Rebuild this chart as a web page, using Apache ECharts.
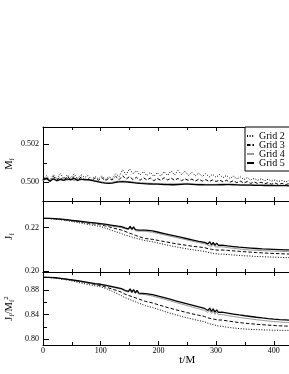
<!DOCTYPE html>
<html><head><meta charset="utf-8">
<script src="https://cdn.jsdelivr.net/npm/echarts@6/dist/echarts.min.js"></script>
<style>html,body{margin:0;padding:0;background:#fff}#c{width:289px;height:374px}</style>
</head><body><div id="c"></div>
<script>
// ---- data ----
const seriesNames = ['Grid 2', 'Grid 3', 'Grid 4', 'Grid 5'];
const xTicks = [0, 100, 200, 300, 400];

const tM = [0,6,12,18,24,30,36,42,48,54,60,66,72,78,84,90,96,102,108,114,120,126,132,138,144,150,156,162,168,174,180,186,192,198,204,210,216,222,228,234,240,246,252,258,264,270,276,282,288,294,300,306,312,318,324,330,336,342,348,354,360,366,372,378,384,390,396,402,408,414,420,426,432];
const mGrid2 = [.50014,.50035,.50010,.50040,.50018,.50045,.50020,.50038,.50022,.50045,.50018,.50040,
 .50025,.50035,.50015,.50030,.50018,.50032,.50015,.50028,.50020,.50045,.50030,.50065,
 .50040,.50070,.50045,.50060,.50038,.50055,.50035,.50052,.50030,.50050,.50032,.50055,
 .50035,.50060,.50038,.50062,.50040,.50058,.50036,.50052,.50034,.50048,.50030,.50045,
 .50028,.50042,.50026,.50040,.50024,.50036,.50020,.50032,.50018,.50028,.50014,.50024,
 .50012,.50020,.50010,.50018,.50008,.50016,.50006,.50012,.50004,.50010,.50002,.50008,.50002];
const mGrid3 = [.50010,.50028,.50002,.50030,.50012,.50026,.50006,.50032,.50014,.50030,.50008,.50028,
 .50014,.50020,.50008,.50022,.50010,.50024,.50008,.50020,.50012,.50030,.50014,.50034,
 .50016,.50030,.50014,.50026,.50010,.50024,.50012,.50022,.50008,.50020,.50010,.50024,
 .50012,.50022,.50010,.50020,.50008,.50018,.50010,.50016,.50006,.50016,.50006,.50014,
 .50004,.50012,.50004,.50012,.50002,.50010,.50000,.50008,.49998,.50006,.49996,.50004,
 .49994,.50002,.49994,.50000,.49992,.49998,.49990,.49996,.49988,.49994,.49988,.49992,.49986];
const mGrid4 = [.50008,.50016,.50010,.50022,.50006,.50014,.50020,.50010,.50018,.50008,.50016,.50012,
 .50018,.50012,.50012,.50008,.50005,.50002,.49999,.49998,.50000,.50004,.50006,.50006,
 .50005,.50003,.50001,.49999,.49998,.49997,.49996,.49995,.49994,.49994,.49993,.49993,
 .49992,.49992,.49992,.49993,.49994,.49994,.49993,.49992,.49991,.49990,.49990,.49989,
 .49989,.49989,.49989,.49990,.49991,.49991,.49991,.49990,.49989,.49988,.49988,.49987,
 .49987,.49987,.49986,.49986,.49986,.49985,.49985,.49985,.49984,.49984,.49984,.49984,.49983];
const mGrid5 = [.50012,.50020,.50005,.50018,.50008,.50015,.50010,.50018,.50012,.50020,.50010,.50016,
 .50012,.50014,.50010,.50006,.50002,.49998,.49995,.49994,.49996,.50000,.50002,.50003,
 .50002,.50000,.49998,.49996,.49994,.49993,.49992,.49991,.49990,.49990,.49989,.49988,
 .49988,.49987,.49987,.49988,.49989,.49990,.49990,.49989,.49988,.49987,.49987,.49986,
 .49986,.49986,.49986,.49987,.49987,.49988,.49988,.49987,.49986,.49985,.49985,.49985,
 .49985,.49984,.49984,.49984,.49983,.49983,.49983,.49982,.49982,.49982,.49982,.49981,.49981];

const tJ = [0,10,20,30,40,50,60,70,80,90,100,110,120,130,
 136,139,142,145,148,151,154,157,160,163,166,169,172,175,178,181,
 190,200,210,220,230,240,250,260,270,280,
 283,286,289,292,295,298,301,304,307,310,
 320,330,340,350,360,370,380,390,400,410,420,430];
const jGrid2 = [.2243,.2242,.2240,.2237,.2233,.2229,.2224,.2219,.2214,.2210,.2205,.2196,.2187,.2178,
 .2173,.2172,.2166,.2168,.2162,.2164,.2157,.2158,.2152,.2153,.2148,.2149,.2144,.2145,.2140,.2141,
 .2135,.2129,.2123,.2117,.2112,.2107,.2102,.2098,.2094,.2091,
 .2091,.2086,.2089,.2083,.2086,.2080,.2083,.2078,.2081,.2078,
 .2076,.2074,.2072,.2070,.2069,.2067,.2066,.2065,.2064,.2063,.2062,.2062];
const jGrid3 = [.2243,.2243,.2241,.2239,.2236,.2232,.2228,.2224,.2220,.2217,.2213,.2207,.2200,.2193,
 .2189,.2189,.2183,.2185,.2177,.2179,.2171,.2173,.2165,.2167,.2159,.2160,.2154,.2155,.2150,.2150,
 .2146,.2141,.2136,.2131,.2126,.2122,.2118,.2114,.2111,.2108,
 .2108,.2103,.2107,.2100,.2104,.2098,.2102,.2096,.2100,.2097,
 .2095,.2093,.2091,.2089,.2087,.2085,.2084,.2082,.2081,.2080,.2079,.2078];
const jGrid4 = [.2243,.2243,.2242,.2240,.2237,.2233,.2230,.2226,.2223,.2220,.2216,.2212,.2207,.2203,
 .2200,.2201,.2195,.2202,.2191,.2201,.2188,.2199,.2186,.2195,.2184,.2191,.2184,.2187,.2183,.2183,
 .2179,.2173,.2167,.2161,.2155,.2149,.2143,.2137,.2131,.2126,
 .2128,.2119,.2128,.2114,.2125,.2112,.2121,.2111,.2116,.2112,
 .2108,.2105,.2102,.2099,.2097,.2095,.2094,.2093,.2092,.2091,.2090,.2089];
const jGrid5 = [.2243,.2243,.2242,.2240,.2237,.2234,.2231,.2228,.2225,.2222,.2219,.2215,.2211,.2207,
 .2205,.2206,.2199,.2207,.2195,.2206,.2193,.2204,.2191,.2200,.2189,.2197,.2189,.2193,.2189,.2189,
 .2185,.2179,.2173,.2167,.2161,.2155,.2149,.2143,.2137,.2132,
 .2134,.2125,.2135,.2121,.2132,.2119,.2129,.2118,.2124,.2120,
 .2116,.2113,.2110,.2108,.2106,.2104,.2102,.2101,.2100,.2099,.2098,.2097];

const jmGrid2 = [.9006,.9002,.8994,.8980,.8964,.8946,.8926,.8905,.8885,.8868,.8852,.8820,.8780,.8735,
 .8708,.8707,.8676,.8685,.8654,.8663,.8632,.8641,.8610,.8619,.8588,.8597,.8566,.8575,.8544,.8542,
 .8515,.8485,.8455,.8425,.8398,.8372,.8348,.8325,.8304,.8284,
 .8287,.8259,.8272,.8244,.8257,.8230,.8242,.8215,.8227,.8210,
 .8195,.8183,.8174,.8167,.8161,.8157,.8153,.8150,.8148,.8146,.8145,.8144];
const jmGrid3 = [.9006,.9004,.8998,.8988,.8975,.8960,.8945,.8928,.8910,.8890,.8870,.8845,.8815,.8785,
 .8765,.8767,.8733,.8747,.8713,.8727,.8693,.8708,.8674,.8688,.8654,.8668,.8634,.8648,.8614,.8617,
 .8590,.8560,.8532,.8505,.8480,.8456,.8432,.8410,.8390,.8370,
 .8376,.8347,.8365,.8335,.8354,.8324,.8342,.8312,.8331,.8313,
 .8298,.8284,.8272,.8261,.8252,.8244,.8237,.8230,.8224,.8219,.8215,.8211];
const jmGrid4 = [.9006,.9004,.8998,.8988,.8976,.8962,.8946,.8930,.8914,.8898,.8884,.8866,.8846,.8825,
 .8812,.8814,.8784,.8814,.8764,.8806,.8752,.8794,.8740,.8778,.8732,.8762,.8728,.8742,.8724,.8722,
 .8702,.8676,.8650,.8624,.8598,.8572,.8546,.8520,.8494,.8468,
 .8473,.8435,.8472,.8418,.8459,.8404,.8442,.8399,.8421,.8402,
 .8385,.8370,.8355,.8342,.8330,.8318,.8307,.8297,.8288,.8281,.8275,.8270];
const jmGrid5 = [.9006,.9005,.9000,.8990,.8978,.8965,.8950,.8935,.8920,.8905,.8893,.8875,.8855,.8835,
 .8823,.8825,.8796,.8826,.8777,.8819,.8766,.8808,.8755,.8793,.8748,.8778,.8745,.8759,.8742,.8741,
 .8725,.8700,.8675,.8650,.8625,.8600,.8575,.8550,.8525,.8500,
 .8506,.8468,.8506,.8452,.8494,.8440,.8478,.8436,.8458,.8440,
 .8425,.8410,.8395,.8382,.8370,.8358,.8347,.8337,.8328,.8320,.8314,.8308];

const yMajor1 = [0.500, 0.502], yMinor1 = [0.499, 0.501];
const yMajor2 = [0.20, 0.22], yMinor2 = [];
const yMajor3 = [0.80, 0.84, 0.88], yMinor3 = [0.82, 0.86, 0.90];

// ---- chart ----
const FONT = "'Liberation Serif','Times New Roman',serif";
const panels = [
  {top:127, height:74, min:0.49902, max:0.50289, major:yMajor1, minor:yMinor1, dec:3, t:tM,
   vals:[mGrid2,mGrid3,mGrid4,mGrid5], name:'{a|M}{s|f}'},
  {top:201, height:71, min:0.19954, max:0.23233, major:yMajor2, minor:yMinor2, dec:2, t:tJ,
   vals:[jGrid2,jGrid3,jGrid4,jGrid5], name:'{a|J}{s|f}'},
  {top:272, height:73, min:0.79075, max:0.90921, major:yMajor3, minor:yMinor3, dec:2, t:tJ,
   vals:[jmGrid2,jmGrid3,jmGrid4,jmGrid5], name:'{a|J}{s|f}{a|/M}{s|f}{p|2}'}
];
const styles = [
  {color:'#000', width:1, type:[1,1.6]},
  {color:'#000', width:1, type:[3.5,2]},
  {color:'#999', width:1, type:'solid'},
  {color:'#000', width:1.3, type:'solid'}
];
const grid=[], xAxis=[], yAxis=[], series=[];
const axisLineStyle = {show:true, onZero:false, lineStyle:{color:'#000', width:1}};
const rich = {
  a:{fontFamily:FONT, fontSize:10.5, lineHeight:13, color:'#000'},
  s:{fontFamily:FONT, fontSize:7, lineHeight:7, verticalAlign:'bottom', color:'#000'},
  p:{fontFamily:FONT, fontSize:7, lineHeight:7, verticalAlign:'top', color:'#000'}
};
panels.forEach((p, i) => {
  grid.push({left:43, right:-42.5, top:p.top, height:p.height, containLabel:false, outerBoundsMode:'none'});
  const last = i === panels.length - 1;
  const xb = {gridIndex:i, type:'value', min:0, max:500, interval:100, position:'bottom',
    axisLine:axisLineStyle, splitLine:{show:false},
    axisTick:{show:true, inside:true, length:4, lineStyle:{color:'#000'}},
    minorTick:{show:true, splitNumber:2, length:3, lineStyle:{color:'#000'}},
    axisLabel:{show:last, margin:2, fontFamily:FONT, fontSize:8, color:'#000'}};
  if (last) {
    xb.name = 't/M'; xb.nameLocation = 'middle'; xb.nameGap = 10; xb.nameMoveOverlap = false;
    xb.nameTextStyle = {fontFamily:FONT, fontSize:11, color:'#000'};
    xb.axisLabel.customValues = xTicks;
  }
  xAxis.push(xb);
  xAxis.push({gridIndex:i, type:'value', min:0, max:500, interval:100, position:'top',
    axisLine:axisLineStyle, splitLine:{show:false},
    axisTick:{show:true, inside:true, length:4, lineStyle:{color:'#000'}},
    minorTick:{show:true, splitNumber:2, length:3, lineStyle:{color:'#000'}},
    axisLabel:{show:false}});
  yAxis.push({gridIndex:i, type:'value', min:p.min, max:p.max, position:'left',
    axisLine:axisLineStyle, splitLine:{show:false},
    axisTick:{show:true, inside:true, length:6, customValues:p.major, lineStyle:{color:'#000'}},
    axisLabel:{show:true, margin:4, customValues:p.major, fontFamily:FONT, fontSize:8, color:'#000',
      formatter:v => Number(v).toFixed(p.dec)},
    name:p.name, nameLocation:'middle', nameGap:27, nameRotate:90, nameMoveOverlap:false,
    nameTextStyle:{fontFamily:FONT, fontSize:10.5, color:'#000', rich:rich}});
  yAxis.push({gridIndex:i, type:'value', min:p.min, max:p.max, position:'left',
    axisLine:{show:false}, splitLine:{show:false},
    axisTick:{show:p.minor.length>0, inside:true, length:4, customValues:p.minor, lineStyle:{color:'#000'}},
    axisLabel:{show:false}});
  p.vals.forEach((v, k) => {
    series.push({type:'line', name:seriesNames[k], xAxisIndex:2*i, yAxisIndex:2*i,
      data:p.t.map((x, j) => [x, v[j]]), symbol:'none', showSymbol:false, silent:true,
      lineStyle:{color:styles[k].color, width:styles[k].width, type:styles[k].type},
      itemStyle:{color:styles[k].color}, z: k===3 ? 4 : 3, clip:true});
  });
});
const chart = echarts.init(document.getElementById('c'), null, {renderer:'canvas'});
chart.setOption({
  animation:false, backgroundColor:'#fff',
  grid, xAxis, yAxis, series,
  legend:{data:seriesNames, orient:'vertical', left:245, top:127,
    padding:[4,40,3,1], itemWidth:7, itemHeight:6, itemGap:-1,
    itemStyle:{opacity:0},
    backgroundColor:'#fff', borderColor:'#000', borderWidth:1, borderRadius:0,
    textStyle:{fontFamily:FONT, fontSize:10, lineHeight:9, color:'#000'}}
});
</script></body></html>
